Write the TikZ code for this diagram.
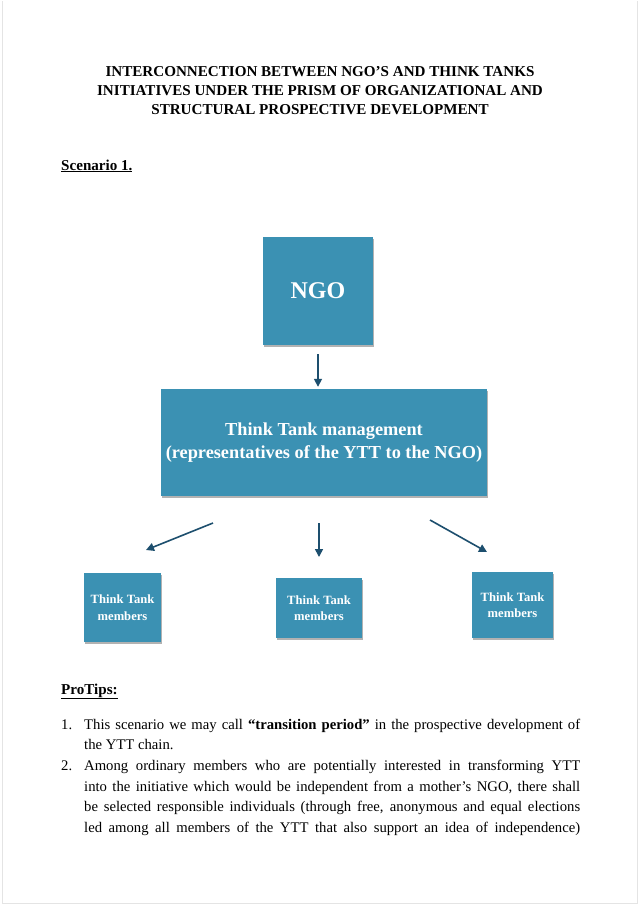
\documentclass[tikz,border=0pt]{standalone}
\usepackage{fontspec}
\setmainfont{Liberation Serif}
\usetikzlibrary{shadows,arrows.meta}
\definecolor{boxblue}{HTML}{3B91B3}
\definecolor{arrowblue}{HTML}{1D4F6E}
\definecolor{pageedge}{HTML}{E4E4E4}
\begin{document}
\begin{tikzpicture}[x=1pt,y=-1pt,
  bx/.style={fill=boxblue, draw=none, text=white, font=\bfseries, align=center, inner sep=0pt,
    drop shadow={shadow xshift=0.8pt, shadow yshift=-1.6pt, opacity=0.3, fill=black}},
  arr/.style={draw=arrowblue, line width=1.6pt, -{Triangle[length=8pt,width=8pt]}},
  heading/.style={font=\bfseries\fontsize{15.1}{19}\selectfont, inner sep=0pt},
  membox/.style={bx, font=\bfseries\fontsize{12.6}{16.5}\selectfont},
]
\useasboundingbox (0,0) rectangle (640,905);
\fill[white] (0,0) rectangle (640,905);
\draw[pageedge, line width=1pt] (2,1) -- (2,903) -- (637,903) -- (637,1);

% title
\node[heading, align=center] (title) at (320,91)
  {INTERCONNECTION BETWEEN NGO’S AND THINK TANKS\\
   INITIATIVES UNDER THE PRISM OF ORGANIZATIONAL AND\\
   STRUCTURAL PROSPECTIVE DEVELOPMENT};

\node[heading, anchor=base west] (scen) at (61,170) {\underline{Scenario 1.}};

% boxes
\node[bx, minimum width=110pt, minimum height=108pt, font=\bfseries\fontsize{24}{28}\selectfont] (ngo) at (318,291) {NGO};
\node[bx, minimum width=326pt, minimum height=107pt, font=\bfseries\fontsize{18.3}{22.5}\selectfont] (tt) at (324,442.5)
  {Think Tank management\\(representatives of the YTT to the NGO)};
\node[membox, minimum width=77pt, minimum height=69pt] (m1) at (122.5,607.5) {Think Tank\\members};
\node[membox, minimum width=86pt, minimum height=60pt] (m2) at (319,608) {Think Tank\\members};
\node[membox, minimum width=81pt, minimum height=66pt] (m3) at (512.5,605) {Think Tank\\members};

% arrows
\draw[arr, shorten <=9pt, shorten >=2pt] (ngo.south) -- (ngo.south |- tt.north);
\coordinate (a1s) at (213,523); \coordinate (a1e) at (146,550);
\coordinate (a2s) at (319,523); \coordinate (a2e) at (319,557);
\coordinate (a3s) at (430,520); \coordinate (a3e) at (487,552);
\draw[arr] (a1s) -- (a1e);
\draw[arr] (a2s) -- (a2e);
\draw[arr] (a3s) -- (a3e);

% protips
\node[heading, anchor=base west] (pro) at (61,694) {\underline{ProTips:}};

\node[anchor=base west, inner sep=0pt, text width=519pt, align=justify, font=\fontsize{14.7}{20.7}\selectfont] (list) at (61,729)
{\hangindent=23pt\hangafter=1\noindent\makebox[23pt][l]{1.}This scenario we may call \textbf{“transition period”} in the prospective development of\linebreak the YTT chain.\par
{\parfillskip=0pt\hangindent=23pt\hangafter=1\noindent\makebox[23pt][l]{2.}Among ordinary members who are potentially interested in transforming YTT\linebreak into the initiative which would be independent from a mother’s NGO, there shall\linebreak be selected responsible individuals (through free, anonymous and equal elections\linebreak led among all members of the YTT that also support an idea of independence)\par}};
\end{tikzpicture}
\end{document}
